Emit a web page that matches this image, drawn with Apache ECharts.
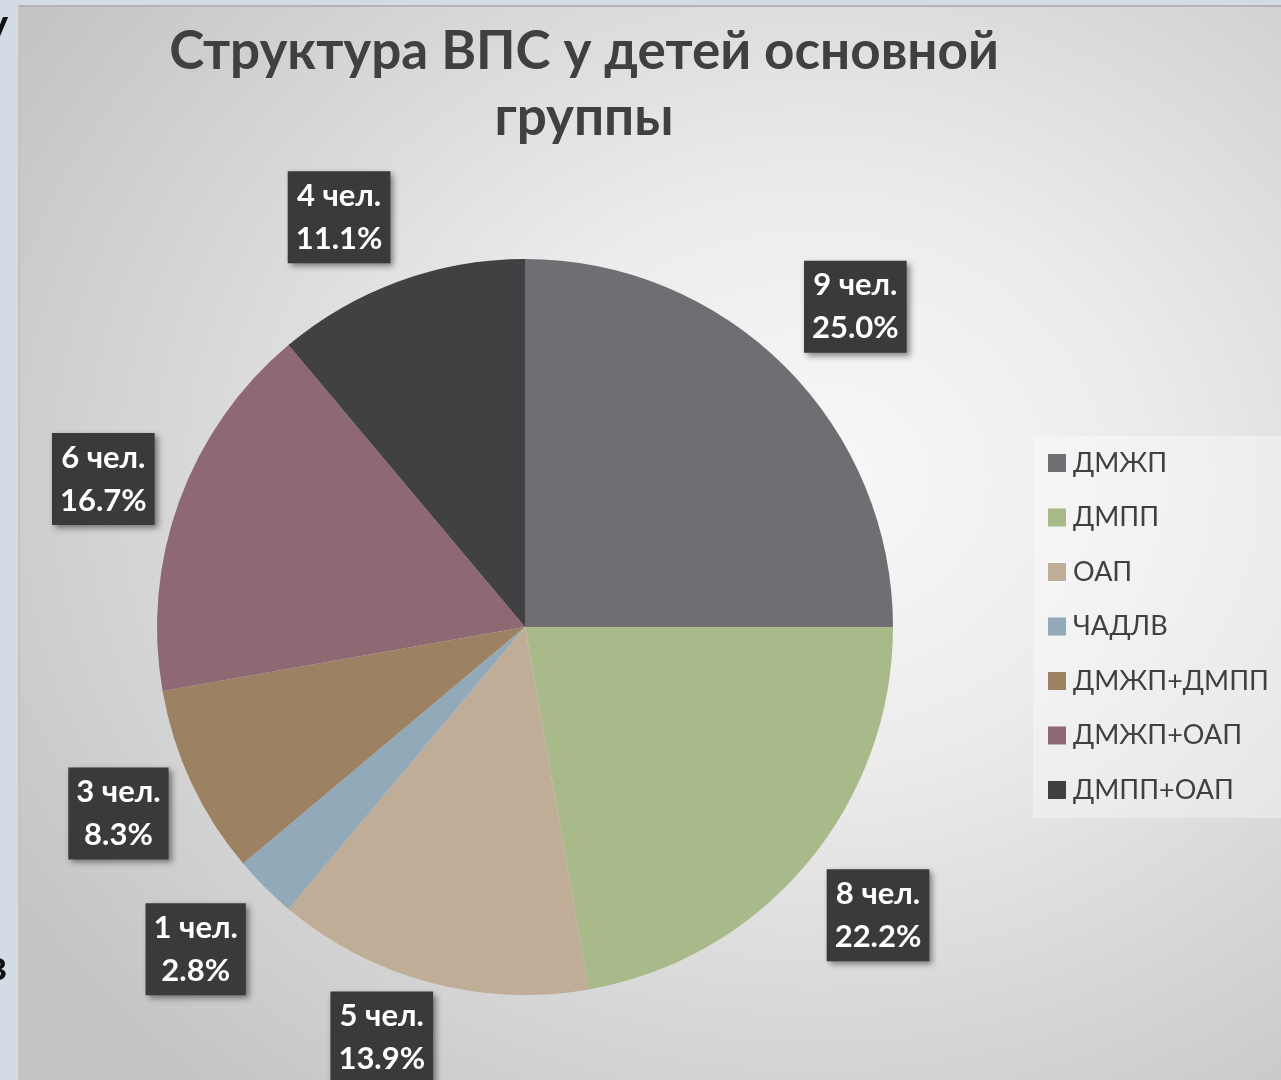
<!DOCTYPE html>
<html>
<head>
<meta charset="utf-8">
<script src="https://cdn.jsdelivr.net/npm/echarts@6/dist/echarts.min.js"></script>
<style>
html,body{margin:0;padding:0;width:1281px;height:1080px;background:#d3dce4;overflow:hidden;}
#bg{position:absolute;left:18px;top:5px;width:1263px;height:1075px;box-sizing:border-box;
 border-top:2px solid #b4b4b4;border-left:2px solid #c4c4c4;
 background:radial-gradient(ellipse 75% 75% at 63% 44%, #f8f8f8 0%, #ececec 35%, #d6d6d6 70%, #c4c4c4 100%);}
#chart{position:absolute;left:0;top:0;width:1281px;height:1080px;}
</style>
</head>
<body>
<div id="bg"></div>
<div id="chart"></div>
<script>
const categories = ['ДМЖП','ДМПП','ОАП','ЧАДЛВ','ДМЖП+ДМПП','ДМЖП+ОАП','ДМПП+ОАП'];
const counts = [9, 8, 5, 1, 3, 6, 4];
const colors = ['#706e73','#a8b98a','#c0ad97','#91a9b9','#9c8263','#8e6973','#414042'];
const titleText = 'Структура ВПС у детей основной\nгруппы';

const labelNudge = [[10,0],[6,-3],[-26,-27],[-9,2],[4,-5],[4,7],[-31,16]];

const total = counts.reduce((a,b)=>a+b,0);
const pieData = categories.map((c,i)=>({name:c, value:counts[i], itemStyle:{color:colors[i]}}));
const labelData = categories.map((c,i)=>({name:c, value:counts[i]}));

const chart = echarts.init(document.getElementById('chart'), null, {renderer:'canvas'});
chart.setOption({
  backgroundColor:'transparent',
  animation:false,
  title:{
    text:titleText, left:579, top:14, textAlign:'center',
    textStyle:{fontFamily:'Lato', fontWeight:'bold', fontSize:53, lineHeight:66, color:'#404040'}
  },
  legend:{
    orient:'vertical', left:1033, top:436,
    padding:[12,20,13,15],
    backgroundColor:'rgba(255,255,255,0.35)',
    icon:'rect', itemWidth:18, itemHeight:18, itemGap:24.5,
    data:categories,
    textStyle:{fontFamily:'Lato', fontSize:27, lineHeight:30, color:'#404040', padding:[0,0,0,2]}
  },
  graphic:[
    {type:'text', left:-14, top:4, style:{text:'у', font:'bold 42px Lato', fill:'#111'}},
    {type:'text', left:-14, top:945, style:{text:'в', font:'bold 42px Lato', fill:'#111'}}
  ],
  series:[
    {
      type:'pie', name:'main', center:[525,627], radius:[0,368],
      startAngle:90, clockwise:true, silent:true,
      label:{show:false}, labelLine:{show:false},
      data:pieData
    },
    {
      type:'pie', name:'labels', center:[525,627], radius:[368,532],
      startAngle:90, clockwise:true, silent:true, legendHoverLink:false,
      itemStyle:{color:'rgba(0,0,0,0)'},
      labelLine:{show:false},
      label:{
        show:true, position:'inside',
        formatter:function(p){ return p.value + ' чел.\n' + (p.value/total*100).toFixed(1) + '%'; },
        fontFamily:'Lato', fontWeight:'bold', fontSize:31, lineHeight:43, color:'#ffffff',
        backgroundColor:'#3a3a3a', padding:[3,8,3,8],
        shadowColor:'rgba(0,0,0,0.45)', shadowBlur:6, shadowOffsetX:3, shadowOffsetY:3
      },
      labelLayout:function(p){ const n = labelNudge[p.dataIndex]; return {dx:n[0], dy:n[1]}; },
      data:labelData
    }
  ]
});
</script>
</body>
</html>
